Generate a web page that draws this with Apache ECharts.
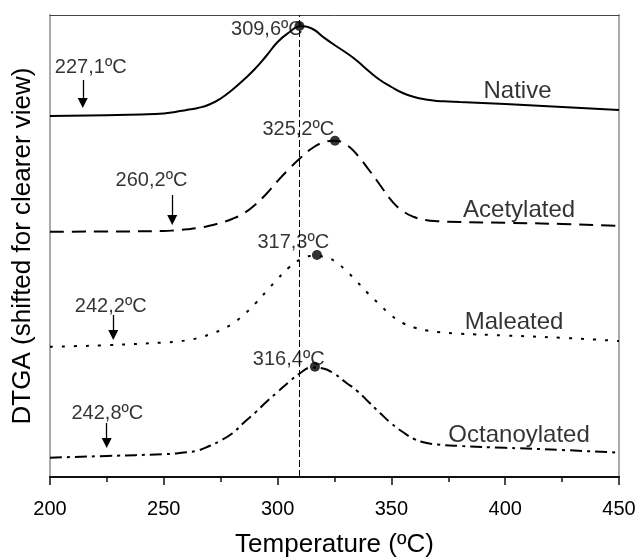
<!DOCTYPE html>
<html>
<head>
<meta charset="utf-8">
<script src="https://cdn.jsdelivr.net/npm/echarts@6/dist/echarts.min.js"></script>
<style>html,body{margin:0;padding:0;background:#fff}#c{width:639px;height:557px}</style>
</head>
<body>
<div id="c"></div>
<script>
// Temperature (ºC) and shifted DTGA (arbitrary units)
const nativeData = [[200,361],[225,361.8],[240,362.5],[250,363.5],[255,365],[260,367],[265,369],[270,372.5],[275,378.5],[280,387],[285,397],[290,408],[295,421],[300,435],[305,444.5],[310,450.8],[315,448.5],[320,440],[325,432],[330,424.5],[335,416],[340,406],[345,397],[350,390],[355,384],[360,380],[365,377.5],[370,376],[375,375.5],[380,375],[400,373],[425,370],[450,367]];
const acetylatedData = [[200,245.3],[225,245.5],[250,246],[255,246.7],[260,247.7],[265,249],[270,251.2],[275,254.2],[280,258],[285,263.5],[290,272],[295,283],[300,296],[305,308],[310,319],[315,328.5],[320,334.5],[325,336.3],[330,332.5],[335,322],[340,307.5],[345,292],[350,276.5],[355,266],[360,260],[365,257],[370,255.8],[380,255],[400,254.2],[425,253],[450,251]];
const maleatedData = [[200,130.3],[225,131.8],[250,134.5],[255,135.2],[260,136.7],[265,139],[270,142.5],[275,147],[280,153],[285,162],[290,173],[295,185.5],[300,198],[305,209.5],[310,217.5],[315,221],[320,220.5],[325,216],[330,206.5],[335,195],[340,183],[345,172],[350,161.5],[355,154],[360,149.5],[365,146.7],[370,145],[380,143.3],[400,141.5],[425,139.2],[450,136]];
const octanoylatedData = [[200,19.3],[225,21],[250,22.8],[255,23.5],[260,24.7],[265,26.5],[270,31],[275,36.5],[280,43.5],[285,54],[290,64],[295,75],[300,85],[305,95],[310,104],[315,109.5],[320,108.5],[325,103],[330,94.5],[335,86],[340,75],[345,64],[350,53.5],[355,45],[360,38],[365,34.2],[370,32.5],[380,31],[400,29.2],[425,27],[450,24.3]];

const peakPoints = [[309.6,451],[325.2,336.3],[317.3,222],[316.4,110.3]];
const peakLabels = ['309,6ºC','325,2ºC','317,3ºC','316,4ºC'];
const peakLabelPos = [[295.3,447.5],[309.1,348],[306.9,234.5],[304.9,118]];
const onsetLabels = ['227,1ºC','260,2ºC','242,2ºC','242,8ºC'];
const onsetLabelPos = [[217.9,410],[244.6,297],[226.7,170.5],[225.2,63.7]];
const onsetArrows = [[214.4,397,374],[253.7,282,257],[227.8,162,142],[224.9,54,34]];
const curveNames = ['Native','Acetylated','Maleated','Octanoylated'];
const curveNamePos = [[405.4,385.7],[406.1,266.2],[403.9,154.5],[406.1,41.2]];
const refLineX = 309.6;
const xTicks = [200,250,300,350,400,450];

const FONT = '"Liberation Sans", Arial, sans-serif';
const chart = echarts.init(document.getElementById('c'), null, {renderer:'canvas'});

const textItems = [];
peakLabels.forEach((t,i)=>textItems.push({value:peakLabelPos[i], name:t, fs:20}));
onsetLabels.forEach((t,i)=>textItems.push({value:onsetLabelPos[i], name:t, fs:20}));
curveNames.forEach((t,i)=>textItems.push({value:curveNamePos[i], name:t, fs:24}));

const lineBase = {type:'line', smooth:0.5, symbol:'none', xAxisIndex:0, yAxisIndex:0, silent:true, animation:false};

chart.setOption({
  animation:false,
  grid:{left:50, right:20, top:15, bottom:80, show:false, containLabel:false, outerBoundsMode:'none'},
  xAxis:[{
    type:'value', min:200, max:450, interval:50, position:'bottom',
    name:'Temperature (ºC)', nameLocation:'middle', nameGap:55,
    nameTextStyle:{fontSize:26, color:'#000', fontFamily:FONT},
    axisLine:{show:true, onZero:false, lineStyle:{color:'#111', width:2}},
    axisTick:{show:true, inside:false, length:8, lineStyle:{color:'#111', width:1.5}},
    minorTick:{show:true, splitNumber:2, length:5, lineStyle:{color:'#111', width:1.5}},
    axisLabel:{fontSize:20, color:'#000', fontFamily:FONT, margin:22, formatter:v=>xTicks.includes(v)?String(v):''},
    splitLine:{show:false}
  },{
    type:'value', min:200, max:450, position:'top',
    axisLine:{show:true, onZero:false, lineStyle:{color:'#444', width:1}},
    axisTick:{show:false}, axisLabel:{show:false}, splitLine:{show:false}
  }],
  yAxis:[{
    type:'value', min:0, max:462, position:'left',
    name:'DTGA (shifted for clearer view)', nameLocation:'middle', nameGap:14,
    nameTextStyle:{fontSize:26, color:'#000', fontFamily:FONT},
    axisLine:{show:true, onZero:false, lineStyle:{color:'#aaa', width:2}},
    axisTick:{show:false}, axisLabel:{show:false}, splitLine:{show:false}
  },{
    type:'value', min:0, max:462, position:'right',
    axisLine:{show:true, onZero:false, lineStyle:{color:'#aaa', width:2}},
    axisTick:{show:false}, axisLabel:{show:false}, splitLine:{show:false}
  }],
  series:[
    Object.assign({}, lineBase, {name:'Native', data:nativeData, lineStyle:{color:'#000', width:2, type:'solid'},
      markLine:{silent:true, symbol:['none','none'], label:{show:false},
        lineStyle:{color:'#000', width:1, type:[7,3]}, data:[{xAxis:refLineX}]}}),
    Object.assign({}, lineBase, {name:'Acetylated', data:acetylatedData, lineStyle:{color:'#000', width:2, type:[14,8]}}),
    Object.assign({}, lineBase, {name:'Maleated', data:maleatedData, lineStyle:{color:'#000', width:2, type:[3,9]}}),
    Object.assign({}, lineBase, {name:'Octanoylated', data:octanoylatedData, lineStyle:{color:'#000', width:2, type:[12,5,3,5]},
      markLine:{silent:true, symbol:['none','triangle'], symbolSize:10, label:{show:false},
        itemStyle:{color:'#000'},
        lineStyle:{color:'#000', width:1.3, type:'solid'},
        data:onsetArrows.map(a=>[{coord:[a[0],a[1]]},{coord:[a[0],a[2]]}])}}),
    {type:'scatter', name:'peaks', data:peakPoints, symbol:'circle', symbolSize:10,
      itemStyle:{color:'#000'}, silent:true, z:5},
    {type:'scatter', name:'texts', symbolSize:0, silent:true, z:6,
      data:textItems.map(d=>({value:d.value, label:{show:true, position:'inside', formatter:d.name,
        fontSize:d.fs, color:'#000', fontFamily:FONT}}))}
  ]
});
</script>
</body>
</html>
